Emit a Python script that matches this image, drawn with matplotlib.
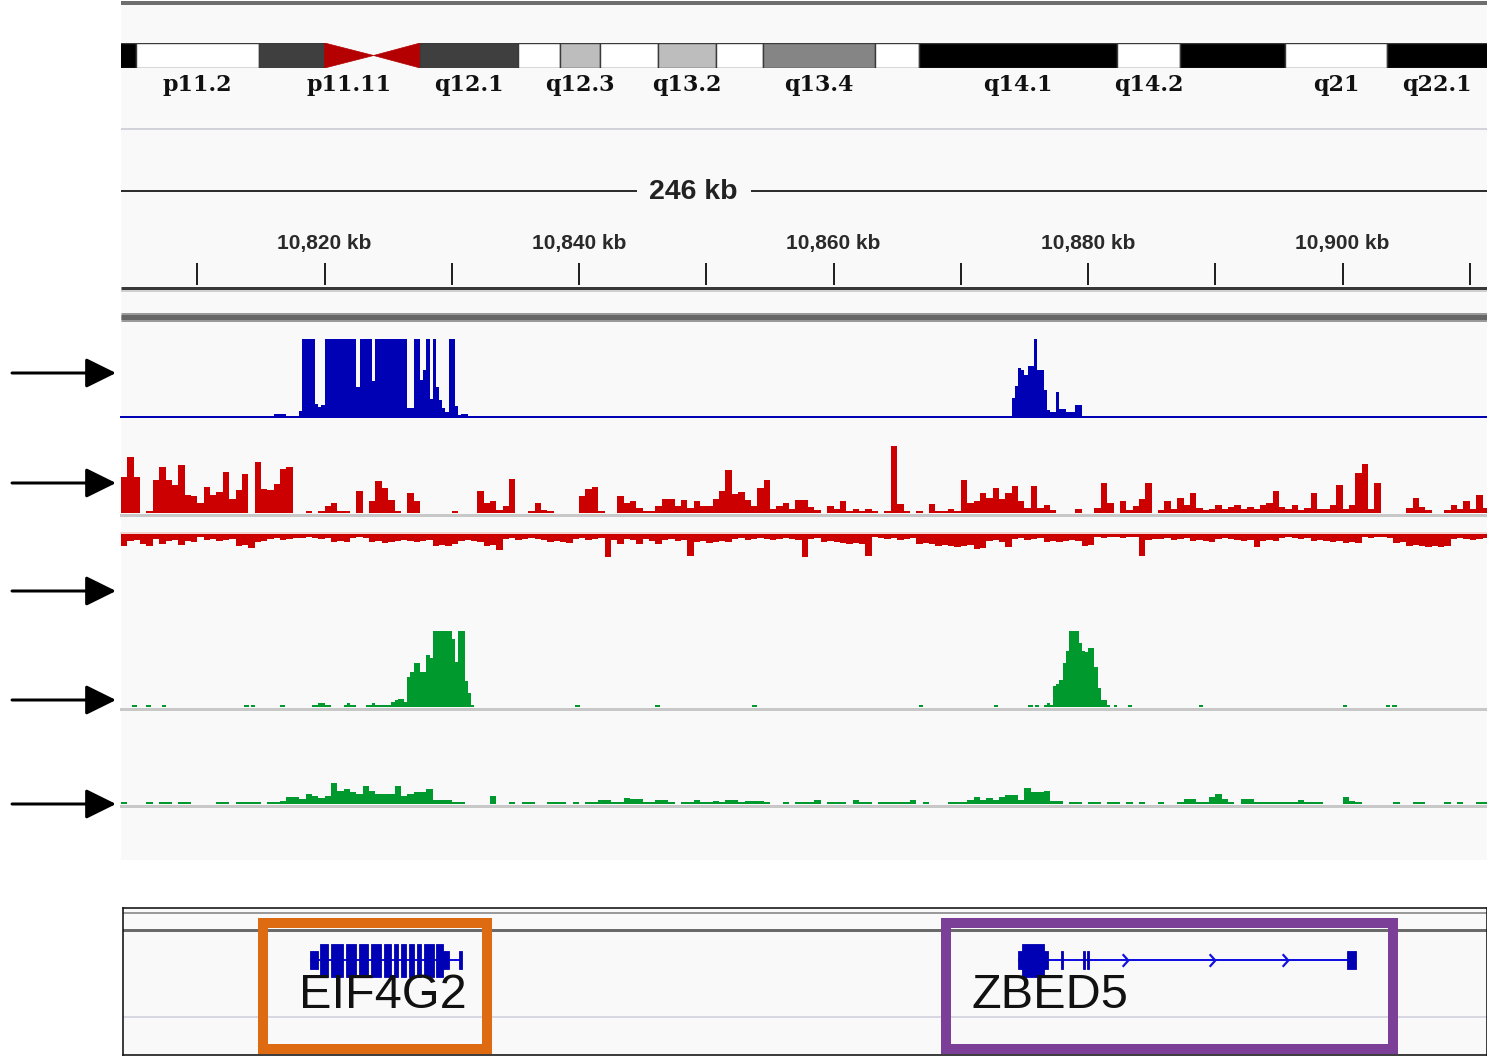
import numpy as np
import matplotlib
matplotlib.use("Agg")
import matplotlib.pyplot as plt
from matplotlib.patches import Rectangle, Polygon
from matplotlib.path import Path

plt.rcParams["font.family"] = ["Liberation Sans", "DejaVu Sans"]

W, H = 1487, 1056
PANEL_LEFT, PANEL_RIGHT = 121, 1487

# genomic window of the data panel (kb)
KB_START, KB_END = 10804.0, 10911.35
RULER_TICKS_KB = [10810, 10820, 10830, 10840, 10850, 10860, 10870, 10880, 10890, 10900, 10910]
RULER_LABELS_KB = [10820, 10840, 10860, 10880, 10900]
SPAN_LABEL = "246 kb"
SPAN_LABEL_KB = 10849.0

# chr11 cytobands (Mb)
BAND_NAMES = ["p12", "p11.2", "p11.12", "p11.11", "q11", "q12.1", "q12.2", "q12.3", "q13.1",
              "q13.2", "q13.3", "q13.4", "q13.5", "q14.1", "q14.2", "q14.3", "q21", "q22.1"]
BAND_STARTS = [40.0, 43.5, 48.8, 51.6, 53.7, 55.7, 59.9, 61.7, 63.4,
               65.9, 68.4, 70.4, 75.2, 77.1, 85.6, 88.3, 92.8, 97.2]
BAND_ENDS = [43.5, 48.8, 51.6, 53.7, 55.7, 59.9, 61.7, 63.4, 65.9,
             68.4, 70.4, 75.2, 77.1, 85.6, 88.3, 92.8, 97.2, 102.1]
BAND_STAINS = ["gpos100", "gneg", "gpos75", "acen", "acen", "gpos75", "gneg", "gpos25", "gneg",
               "gpos25", "gneg", "gpos50", "gneg", "gpos100", "gneg", "gpos100", "gneg", "gpos100"]
LABELED_BANDS = ["p11.2", "p11.11", "q12.1", "q12.3", "q13.2", "q13.4", "q14.1", "q14.2", "q21", "q22.1"]
IDEO_MB = (42.86, 101.48)

# coverage tracks: 0.5 kb bins from KB_START
BIN_KB = 0.5
red_plus = [
    36, 56, 36, 0, 2, 33, 46, 33, 28, 48, 18, 17, 10, 26, 18, 21, 41, 14, 23, 39,
    0, 51, 24, 23, 29, 44, 46, 0, 0, 2, 0, 2, 7, 10, 2, 2, 0, 22, 0, 12,
    32, 25, 13, 2, 0, 20, 12, 0, 0, 0, 0, 0, 2, 0, 0, 0, 22, 10, 12, 3,
    7, 34, 0, 0, 2, 10, 3, 2, 0, 0, 0, 0, 17, 24, 26, 2, 0, 0, 17, 10,
    12, 5, 2, 2, 7, 14, 14, 7, 13, 5, 12, 7, 7, 14, 22, 43, 19, 21, 13, 7,
    25, 33, 4, 7, 10, 4, 13, 13, 6, 3, 0, 7, 4, 12, 2, 4, 2, 4, 2, 0,
    2, 68, 9, 2, 0, 2, 0, 9, 2, 2, 4, 2, 33, 10, 12, 20, 15, 25, 14, 20,
    27, 12, 5, 27, 5, 8, 3, 0, 0, 0, 4, 0, 0, 5, 30, 10, 0, 12, 3, 7,
    14, 30, 0, 3, 12, 4, 15, 8, 20, 5, 3, 4, 8, 4, 6, 8, 4, 6, 4, 8,
    10, 22, 6, 4, 8, 3, 5, 20, 4, 4, 8, 28, 4, 8, 40, 49, 4, 30, 0, 0,
    0, 0, 5, 15, 6, 3, 0, 0, 3, 8, 4, 12, 4, 18, 5,
]
red_minus = [
    12, 7, 6, 10, 12, 5, 10, 7, 6, 11, 7, 8, 3, 6, 5, 7, 6, 5, 12, 11,
    14, 8, 7, 5, 4, 6, 5, 4, 4, 3, 4, 5, 4, 8, 7, 8, 4, 3, 4, 8,
    7, 9, 8, 7, 6, 7, 8, 7, 6, 12, 11, 12, 10, 7, 6, 7, 8, 12, 11, 16,
    5, 4, 6, 5, 4, 5, 6, 8, 7, 8, 9, 5, 4, 6, 5, 4, 25, 6, 10, 5,
    6, 10, 5, 7, 10, 6, 5, 7, 6, 22, 8, 7, 9, 8, 7, 8, 5, 4, 6, 5,
    4, 5, 6, 5, 4, 5, 6, 23, 5, 4, 8, 7, 8, 9, 10, 9, 10, 22, 3, 4,
    5, 4, 6, 5, 4, 10, 9, 10, 12, 11, 12, 13, 12, 11, 15, 14, 7, 6, 8, 13,
    5, 4, 6, 5, 4, 8, 7, 8, 7, 6, 7, 12, 11, 3, 4, 3, 3, 4, 3, 3,
    22, 6, 5, 5, 4, 6, 5, 4, 7, 6, 7, 8, 5, 4, 5, 6, 7, 6, 13, 7,
    6, 7, 4, 3, 4, 5, 4, 7, 6, 7, 8, 7, 9, 8, 9, 3, 4, 3, 3, 4,
    9, 8, 12, 11, 12, 13, 12, 13, 12, 5, 4, 5, 6, 5, 4,
]
green_low = [
    2, 0, 0, 0, 2, 0, 2, 2, 0, 2, 2, 0, 0, 0, 0, 2, 2, 0, 2, 2,
    2, 2, 0, 2, 2, 3, 7, 7, 5, 10, 8, 6, 8, 21, 13, 15, 12, 10, 18, 13,
    10, 10, 10, 18, 8, 10, 12, 12, 15, 4, 4, 4, 2, 2, 0, 0, 0, 0, 8, 0,
    0, 2, 0, 2, 2, 0, 0, 2, 2, 2, 0, 2, 0, 2, 2, 4, 4, 2, 2, 6,
    5, 5, 2, 2, 4, 4, 2, 0, 2, 2, 4, 2, 2, 3, 2, 4, 4, 2, 3, 3,
    3, 2, 0, 0, 2, 0, 2, 2, 2, 4, 0, 2, 2, 2, 0, 4, 2, 2, 0, 2,
    2, 2, 2, 2, 4, 0, 2, 0, 0, 0, 2, 2, 2, 4, 7, 4, 6, 4, 7, 9,
    9, 4, 16, 12, 12, 13, 3, 3, 0, 2, 2, 0, 2, 2, 0, 2, 2, 0, 2, 0,
    2, 0, 0, 2, 0, 0, 2, 5, 5, 2, 2, 7, 10, 5, 2, 0, 5, 5, 2, 2,
    2, 2, 2, 2, 2, 4, 2, 2, 2, 0, 0, 0, 7, 3, 2, 0, 0, 0, 0, 0,
    2, 0, 0, 2, 2, 0, 0, 0, 2, 0, 2, 0, 0, 2, 2,
]

# peak tracks: 0.25 kb bins, runs of signal (zero elsewhere)
FINE_KB = 0.25
blue_run1_start = 10816.0
blue_run1 = [
    4, 4, 4, 4, 0, 0, 0, 0, 8, 100, 100, 100, 100, 17, 13, 15, 100, 100, 100, 100,
    100, 100, 100, 100, 100, 100, 38, 100, 100, 100, 100, 46, 100, 100, 100, 100, 100, 100, 100, 100,
    100, 100, 12, 12, 100, 100, 48, 60, 100, 23, 100, 38, 22, 12, 6, 100, 100, 14, 2, 4, 4,
]
blue_run2_start = 10874.0
blue_run2 = [25, 40, 63, 60, 54, 66, 66, 100, 60, 60, 35, 9, 7, 7, 32, 10, 10, 7, 7, 7, 16, 16]

green_run1_start = 10819.0
green_run1 = [
    3, 3, 5, 5, 3, 3, 0, 0, 0, 0, 3, 5, 3, 3, 0, 0, 0, 3, 3, 5, 3, 3, 3, 3,
    3, 7, 9, 11, 11, 7, 39, 46, 58, 58, 46, 46, 68, 65, 100, 100, 100, 100, 100, 100,
    90, 59, 100, 100, 34, 18, 2,
]
green_run2_start = 10876.5
green_run2 = [3, 5, 3, 27, 30, 35, 58, 74, 100, 100, 100, 84, 74, 72, 77, 77, 53, 25, 9, 9, 3, 0, 3]
green_dots_kb = [10804.9, 10806.0, 10807.2, 10813.7, 10814.2, 10816.5, 10839.7, 10846.0, 10853.6,
                 10866.7, 10872.6, 10875.3, 10875.8, 10883.1, 10888.7, 10900.0, 10903.4, 10903.9]
GREEN_DOT_LEVEL = 3

# gene models (kb)
EIF4G2_SPAN = (10818.85, 10830.80)
EIF4G2_UTR = [(10818.85, 10819.48), (10829.30, 10829.78), (10830.55, 10830.80)]
EIF4G2_CDS = [(10819.64, 10820.27), (10820.50, 10821.45), (10821.68, 10822.47), (10822.70, 10823.41),
              (10823.65, 10824.43), (10824.67, 10825.22), (10825.45, 10825.77), (10826.00, 10826.40),
              (10826.63, 10827.03), (10827.26, 10827.58), (10827.81, 10828.60), (10828.75, 10829.30)]
ZBED5_SPAN = (10874.49, 10901.06)
ZBED5_UTR = [(10874.49, 10874.80), (10876.55, 10876.85), (10877.90, 10878.00), (10879.63, 10879.73),
             (10879.94, 10880.04), (10900.35, 10901.06)]
ZBED5_CDS = [(10874.80, 10876.55)]
ZBED5_STRAND_KB = [10882.90, 10889.74, 10895.47]
GENE_NAMES = ["EIF4G2", "ZBED5"]
GENE_LABEL_KB = [10824.6, 10877.0]
HIGHLIGHT_KB = [(10815.16, 10832.80), (10868.87, 10904.00)]
HIGHLIGHT_COLORS = ["#de6a12", "#7b3f98"]

BLUE = "#0000b4"
RED = "#cc0000"
GREEN = "#00992e"
BG = "#f9f9f9"
STAIN_COLORS = {"gneg": "white", "gpos25": "#bdbdbd", "gpos50": "#858585",
                "gpos75": "#3f3f3f", "gpos100": "black"}
PX = 0.72  # points per pixel at dpi 100


def px_axes(fig, x0, y0, x1, y1):
    ax = fig.add_axes([x0 / W, 1 - y1 / H, (x1 - x0) / W, (y1 - y0) / H])
    ax.set_facecolor("none")
    ax.set_axis_off()
    return ax


def kb_axes(fig, y0, y1, ylim):
    ax = px_axes(fig, PANEL_LEFT, y0, PANEL_RIGHT, y1)
    ax.set_xlim(KB_START, KB_END)
    ax.set_ylim(*ylim)
    return ax


def bin_edges(start, step, n):
    return start + step * np.arange(n + 1)


fig = plt.figure(figsize=(W / 100, H / 100), dpi=100)
fig.patch.set_facecolor("white")

# panel background, separators, pointer arrows
bg = px_axes(fig, 0, 0, W, H)
bg.set_xlim(0, W)
bg.set_ylim(H, 0)
bg.add_patch(Rectangle((PANEL_LEFT, 4), PANEL_RIGHT - PANEL_LEFT, 856, facecolor=BG, edgecolor="none"))
bg.plot([PANEL_LEFT, PANEL_RIGHT], [2.5, 2.5], color="#6e6e6e", lw=4 * PX, solid_capstyle="butt")
bg.plot([PANEL_LEFT, PANEL_RIGHT], [128.5, 128.5], color="#d2d2da", lw=2 * PX, solid_capstyle="butt")
bg.plot([PANEL_LEFT, PANEL_RIGHT], [288, 288], color="#383838", lw=3 * PX, solid_capstyle="butt")
bg.plot([PANEL_LEFT, PANEL_RIGHT], [290.5, 290.5], color="#cfcfcf", lw=2 * PX, solid_capstyle="butt")
bg.plot([PANEL_LEFT, PANEL_RIGHT], [316.5, 316.5], color="#9a9a9a", lw=9 * PX, solid_capstyle="butt")
bg.plot([PANEL_LEFT, PANEL_RIGHT], [316.5, 316.5], color="#666666", lw=5 * PX, solid_capstyle="butt")
for y in [373, 483, 591, 700, 804]:
    bg.annotate("", xy=(116, y), xytext=(12, y),
                arrowprops=dict(arrowstyle="-|>,head_length=0.85,head_width=0.42", mutation_scale=22,
                                lw=3 * PX, color="black", shrinkA=0, shrinkB=0))

# ideogram
ideo = px_axes(fig, PANEL_LEFT, 43, PANEL_RIGHT, 68)
ideo.set_xlim(*IDEO_MB)
ideo.set_ylim(0, 1)
for name, s, e, stain in zip(BAND_NAMES, BAND_STARTS, BAND_ENDS, BAND_STAINS):
    if stain == "acen":
        if name.startswith("p"):
            pts = [(s, 0), (s, 1), (e, 0.5)]
        else:
            pts = [(s, 0.5), (e, 1), (e, 0)]
        ideo.add_patch(Polygon(pts, closed=True, facecolor="#b40000", edgecolor="#b40000", lw=0.5))
    else:
        ideo.add_patch(Rectangle((s, 0), e - s, 1, facecolor=STAIN_COLORS[stain],
                                 edgecolor="#3a3a3a", lw=1.4 * PX))
    if name in LABELED_BANDS:
        mid = (max(s, IDEO_MB[0]) + min(e, IDEO_MB[1])) / 2
        ideo.text(mid, -0.22, name, ha="center", va="top", fontsize=16, fontweight="bold",
                  family="DejaVu Serif", color="#111111")

# ruler
ruler = kb_axes(fig, 170, 292, (122, 0))
ruler.plot([KB_START, KB_END], [21, 21], color="#2e2e2e", lw=2 * PX, solid_capstyle="butt")
ruler.text(SPAN_LABEL_KB, 22, SPAN_LABEL, ha="center", va="center", fontsize=20.5,
           fontweight="bold", color="#222222",
           bbox=dict(boxstyle="square,pad=0.45", facecolor=BG, edgecolor="none"))
ruler.vlines(RULER_TICKS_KB, 93, 115, color="#222222", lw=2 * PX)
for kb in RULER_LABELS_KB:
    ruler.text(kb, 73, f"{kb:,} kb", ha="center", va="center", fontsize=15,
               fontweight="bold", color="#2a2a2a")

# blue peak track
ax_blue = kb_axes(fig, 339, 417, (0, 100))
for start, vals in [(blue_run1_start, blue_run1), (blue_run2_start, blue_run2)]:
    ax_blue.stairs(vals, bin_edges(start, FINE_KB, len(vals)), fill=True, color=BLUE, lw=0)
ax_blue.axhline(0, color=BLUE, lw=2 * PX, clip_on=False)

# red stranded coverage
ax_rp = kb_axes(fig, 446, 513, (0, 67))
ax_rp.axhline(-1.5, color="#c8c8c8", lw=3 * PX, clip_on=False, zorder=1)
ax_rp.stairs(red_plus, bin_edges(KB_START, BIN_KB, len(red_plus)), fill=True, color=RED, lw=0, zorder=2)

ax_rm = kb_axes(fig, 534, 557, (-23, 0))
ax_rm.axhline(0.8, color="#f0c8c8", lw=1.5 * PX, clip_on=False)
ax_rm.stairs(-np.array(red_minus), bin_edges(KB_START, BIN_KB, len(red_minus)), fill=True,
             color=RED, lw=0)

# green peak track
ax_g1 = kb_axes(fig, 631, 707, (0, 100))
ax_g1.axhline(-2.5, color="#c8c8c8", lw=3 * PX, clip_on=False, zorder=1)
for start, vals in [(green_run1_start, green_run1), (green_run2_start, green_run2)]:
    ax_g1.stairs(vals, bin_edges(start, FINE_KB, len(vals)), fill=True, color=GREEN, lw=0, zorder=2)
ax_g1.bar(green_dots_kb, GREEN_DOT_LEVEL, width=0.35, align="edge", color=GREEN, lw=0, zorder=2)

# green low-level track
ax_g2 = kb_axes(fig, 783, 804, (0, 21))
ax_g2.axhline(-1.5, color="#c8c8c8", lw=3 * PX, clip_on=False, zorder=1)
ax_g2.stairs(green_low, bin_edges(KB_START, BIN_KB, len(green_low)), fill=True, color=GREEN, lw=0, zorder=2)

# gene annotation panel
px_per_kb = (PANEL_RIGHT - PANEL_LEFT) / (KB_END - KB_START)
gene = fig.add_axes([123 / W, 1 - 1055 / H, (PANEL_RIGHT - 123) / W, 147 / H])
gene.set_facecolor(BG)
gene.set_xlim(KB_START + 2 / px_per_kb, KB_END)
gene.set_ylim(147, 0)
gene.set_xticks([])
gene.set_yticks([])
for sp in gene.spines.values():
    sp.set_color("#111111")
    sp.set_linewidth(1.6 * PX)
gene.axhline(5, color="#9a9a9a", lw=2 * PX)
gene.axhline(21.5, color="#6a6a6a", lw=3 * PX)
gene.axhline(109, color="#d8d8e2", lw=2 * PX)

ROW = 52
for span, utrs, cds in [(EIF4G2_SPAN, EIF4G2_UTR, EIF4G2_CDS), (ZBED5_SPAN, ZBED5_UTR, ZBED5_CDS)]:
    gene.plot(span, [ROW, ROW], color="#1010e0", lw=2 * PX, solid_capstyle="butt", zorder=3)
    for s, e in utrs:
        gene.add_patch(Rectangle((s, ROW - 9), e - s, 18, facecolor=BLUE, edgecolor=BLUE, lw=0.6, zorder=4))
    for s, e in cds:
        gene.add_patch(Rectangle((s, ROW - 16.5), e - s, 33, facecolor=BLUE, edgecolor=BLUE, lw=0.6, zorder=4))

chevron = Path([(-0.45, 1), (0.45, 0), (-0.45, -1)], [Path.MOVETO, Path.LINETO, Path.LINETO])
gene.plot(ZBED5_STRAND_KB, [ROW] * len(ZBED5_STRAND_KB), ls="none", marker=chevron, ms=9,
          mfc="none", mec="#1010e0", mew=1.6, zorder=4)

for name, x in zip(GENE_NAMES, GENE_LABEL_KB):
    gene.text(x, 100, name, ha="center", va="baseline", fontsize=35, color="#111111", zorder=5)

for (s, e), c in zip(HIGHLIGHT_KB, HIGHLIGHT_COLORS):
    gene.add_patch(Rectangle((s, 14.5), e - s, 126.5, facecolor="none", edgecolor=c,
                             lw=10 * PX, clip_on=False, zorder=6))

fig.savefig("out.png", dpi=100, facecolor="white")
